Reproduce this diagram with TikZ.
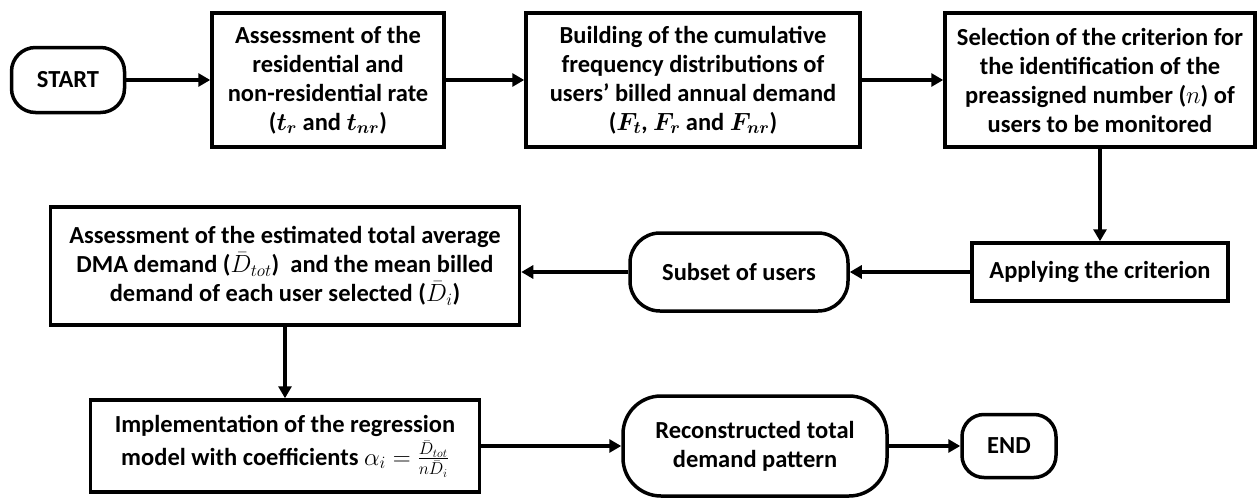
\documentclass[tikz,border=0pt]{standalone}
\usepackage{amsmath}
\usepackage{fontspec}
\setmainfont{Carlito}
\usetikzlibrary{arrows.meta}
\begin{document}
\begin{tikzpicture}[x=1pt,y=-1pt,
  box/.style={draw, line width=3.5pt, align=center, inner sep=2pt,
    font=\fontsize{24.5}{29}\selectfont\bfseries},
  term/.style={box, rounded corners=#1},
  arr/.style={line width=3.5pt, -{Triangle[length=12pt,width=13pt]}}]
\useasboundingbox (0,0) rectangle (1259,498);
\node[term=24pt, minimum width=113pt, minimum height=65pt] (start) at (68,80) {START};
\node[box, minimum width=232pt, minimum height=134pt] (b1) at (328,80)
  {Assessment of the\\ residential and\\ non-residential rate\\ ($\boldsymbol{t_r}$ and $\boldsymbol{t_{nr}}$)};
\node[box, minimum width=334pt, minimum height=134pt] (b2) at (693,80)
  {Building of the cumulative\\ frequency distributions of\\ users' billed annual demand\\ ($\boldsymbol{F_t}$, $\boldsymbol{F_r}$ and $\boldsymbol{F_{nr}}$)};
\node[box, minimum width=310pt, minimum height=134pt] (b3) at (1100,80)
  {Selection of the criterion for\\ the identification of the\\ preassigned number ($n$) of\\ users to be monitored};
\node[box, minimum width=256pt, minimum height=58pt] (apply) at (1100,272) {Applying the criterion};
\node[term=30pt, minimum width=218pt, minimum height=78pt] (subset) at (739,272) {Subset of users};
\node[box, minimum width=469pt, minimum height=118pt] (dma) at (285,266)
  {Assessment of the estimated total average\\ DMA demand ($\bar{D}_{tot}$)~ and the mean billed\\ demand of each user selected ($\bar{D}_i$)};
\node[box, minimum width=389pt, minimum height=92pt] (impl) at (285,446)
  {Implementation of the regression\\[4pt] model with coefficients $\alpha_i=\frac{\bar{D}_{tot}}{n\bar{D}_i}$};
\node[term=38pt, minimum width=264pt, minimum height=100pt] (recon) at (755,446)
  {Reconstructed total\\ demand pattern};
\node[term=22pt, minimum width=94pt, minimum height=63pt] (end) at (1009,446) {END};
\draw[arr] (start) -- (b1);
\draw[arr] (b1) -- (b2);
\draw[arr] (b2) -- (b3);
\draw[arr] (b3.south) -- (apply.north);
\draw[arr] (apply) -- (subset);
\draw[arr] (subset.west) -- (subset.west -| dma.east);
\draw[arr] (dma.south) -- (impl.north);
\draw[arr] (impl.east) -- (recon.west);
\draw[arr] (recon.east) -- (end.west);
\end{tikzpicture}
\end{document}
